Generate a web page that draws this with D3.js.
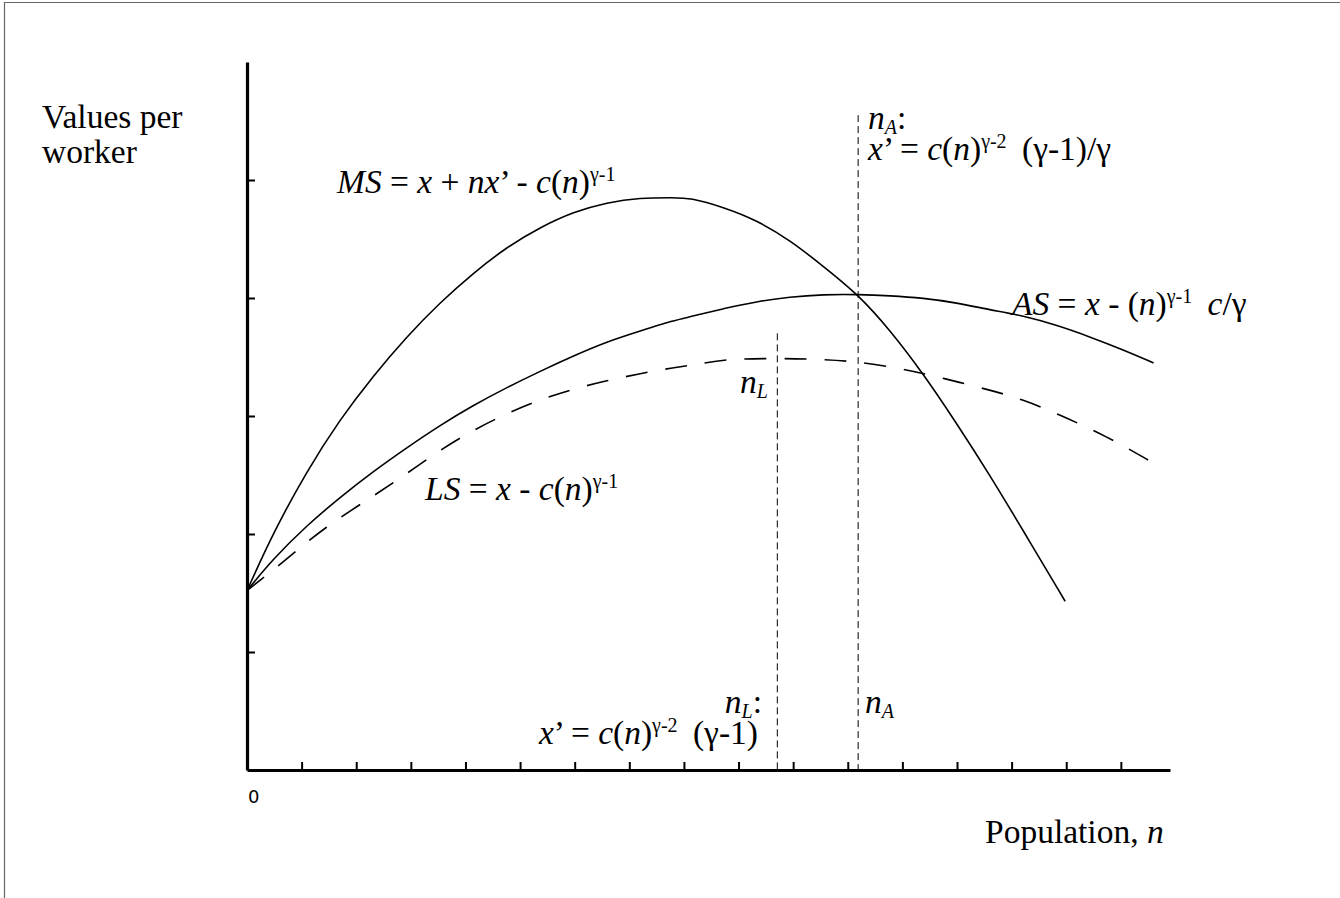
<!DOCTYPE html>
<html>
<head>
<meta charset="utf-8">
<script src="https://cdn.jsdelivr.net/npm/d3@7"></script>
<style>
	body { margin: 0; background: #fff; }
	text, tspan { font-family: 'Liberation Serif', 'Times New Roman', serif; fill: #000; white-space: pre; }
</style>
</head>
<body>
<div id="chart"></div>
<script>
// values (n in x-tick units, value in y-tick units)
var msN = [0, 0.48, 1.09, 1.7, 2.31, 2.92, 3.53, 4.14, 4.75, 5.37, 5.98, 6.59, 7.2, 7.81, 8.11, 8.72, 9.33, 9.94, 10.55, 11.19, 11.77, 12.38, 12.99, 13.6, 14.21, 14.98];
var msV = [1.52, 2.01, 2.53, 2.97, 3.34, 3.67, 3.96, 4.21, 4.43, 4.6, 4.73, 4.81, 4.85, 4.85, 4.85, 4.77, 4.66, 4.49, 4.27, 4.03, 3.73, 3.36, 2.94, 2.5, 2.03, 1.43];

var asN = [0, 0.48, 1.09, 1.7, 2.31, 2.92, 3.53, 4.14, 4.75, 5.37, 5.98, 6.59, 7.2, 7.81, 8.11, 8.72, 9.33, 9.94, 10.55, 11.19, 11.77, 12.38, 12.99, 13.6, 14.21, 14.83, 15.44, 16.05, 16.6];
var asV = [1.52, 1.79, 2.07, 2.31, 2.53, 2.73, 2.92, 3.09, 3.24, 3.38, 3.51, 3.63, 3.72, 3.81, 3.84, 3.91, 3.97, 4.01, 4.03, 4.03, 4.02, 4.0, 3.96, 3.9, 3.85, 3.77, 3.67, 3.56, 3.45];

var lsN = [0, 0.79, 1.4, 2.31, 2.92, 3.53, 4.14, 4.75, 5.37, 5.98, 6.59, 7.2, 7.81, 8.29, 8.72, 9.64, 10.55, 11.19, 12.02, 12.75, 13.6, 14.21, 14.83, 15.74, 16.6];
var lsV = [1.52, 1.81, 2.05, 2.32, 2.51, 2.71, 2.88, 3.02, 3.14, 3.23, 3.3, 3.36, 3.41, 3.44, 3.48, 3.49, 3.48, 3.46, 3.4, 3.32, 3.22, 3.14, 3.02, 2.83, 2.6];

// vertical markers n_L and n_A: position and top
var markN = [9.71, 11.19];
var markTop = [3.7, 5.55];

var xTicks = d3.range(1, 17);
var yTicks = [1, 2, 3, 4, 5];

var width = 1340, height = 898;

var svg = d3.select('#chart').append('svg')
	.attr('width', width)
	.attr('height', height);

// frame (only left and top edges show)
svg.append('path')
	.attr('d', 'M4.5,' + height + 'V2.5H' + width)
	.attr('fill', 'none')
	.attr('stroke', '#666')
	.attr('stroke-width', 1.2);

var x = d3.scaleLinear().domain([0, 16.9]).range([247, 1170]);
var y = d3.scaleLinear().domain([0, 6]).range([770, 62]);

//Axes, ticks pointing inside
var xAxis = svg.append('g')
	.attr('transform', 'translate(0,' + y(0) + ')')
	.call(d3.axisBottom(x).tickValues(xTicks).tickSizeInner(-8).tickSizeOuter(0).tickFormat(''));
var yAxis = svg.append('g')
	.attr('transform', 'translate(' + x(0) + ',0)')
	.call(d3.axisLeft(y).tickValues(yTicks).tickSizeInner(-8).tickSizeOuter(0).tickFormat(''));
[xAxis, yAxis].forEach(function(a) {
	a.select('.domain').attr('stroke-width', 3.2).attr('stroke', '#000');
	a.selectAll('.tick line').attr('stroke-width', 2).attr('stroke', '#000');
});

var line = d3.line()
	.x(function(d) { return x(d[0]); })
	.y(function(d) { return y(d[1]); })
	.curve(d3.curveBasis);

function zip(a, b) {
	return a.map(function(v, i) { return [v, b[i]]; });
}

svg.append('path').datum(zip(msN, msV))
	.attr('fill', 'none').attr('stroke', '#000').attr('stroke-width', 1.6).attr('d', line);
svg.append('path').datum(zip(asN, asV))
	.attr('fill', 'none').attr('stroke', '#000').attr('stroke-width', 1.6).attr('d', line);
svg.append('path').datum(zip(lsN, lsV))
	.attr('fill', 'none').attr('stroke', '#000').attr('stroke-width', 1.6)
	.attr('stroke-dasharray', '22,18').attr('d', line);

//dashed verticals
svg.selectAll('.mark').data(markN).enter().append('line')
	.attr('x1', function(d) { return x(d); })
	.attr('x2', function(d) { return x(d); })
	.attr('y1', function(d, i) { return y(markTop[i]); })
	.attr('y2', y(0))
	.attr('stroke', '#000').attr('stroke-width', 1)
	.attr('stroke-dasharray', '7,4');

// text with italics and sub/superscripts, optional extra gap as 3rd item
function rich(px, py, parts, anchor) {
	var t = svg.append('text')
		.attr('x', px).attr('y', py)
		.attr('text-anchor', anchor || 'start')
		.style('font-size', '33.5px');
	var shift = 0;
	parts.forEach(function(p) {
		var st = p[1] || '';
		var target = st.indexOf('sup') >= 0 ? -12 : (st.indexOf('sub') >= 0 ? 5 : 0);
		var ts = t.append('tspan')
			.attr('dy', target - shift)
			.style('font-style', st.charAt(0) === 'i' ? 'italic' : 'normal')
			.text(p[0]);
		if (p[2]) ts.attr('dx', p[2]);
		if (target !== 0) ts.style('font-size', '20px');
		shift = target;
	});
	return t;
}

rich(42, 128, [['Values per']]);
rich(42, 163, [['worker']]);
rich(337, 193, [['MS', 'i'], [' = '], ['x', 'i'], [' + '], ['nx', 'i'], ['’ - '], ['c', 'i'], ['('], ['n', 'i'], [')'], ['γ-1', 'sup']]);
rich(868, 129, [['n', 'i'], ['A', 'isub'], [':']]);
rich(868, 160, [['x', 'i'], ['’ = '], ['c', 'i'], ['('], ['n', 'i'], [')'], ['γ-2', 'sup'], [' (γ-1)/γ', '', 7]]);
rich(1012, 315, [['AS', 'i'], [' = '], ['x', 'i'], [' - ('], ['n', 'i'], [')'], ['γ-1', 'sup'], [' ', '', 7], ['c', 'i'], ['/γ']]);
rich(425, 500, [['LS', 'i'], [' = '], ['x', 'i'], [' - '], ['c', 'i'], ['('], ['n', 'i'], [')'], ['γ-1', 'sup']]);
rich(740, 393, [['n', 'i'], ['L', 'isub']]);
rich(762, 713, [['n', 'i'], ['L', 'isub'], [':']], 'end');
rich(758, 744, [['x', 'i'], ['’ = '], ['c', 'i'], ['('], ['n', 'i'], [')'], ['γ-2', 'sup'], [' (γ-1)', '', 7]], 'end');
rich(865, 713, [['n', 'i'], ['A', 'isub']]);
rich(985, 843, [['Population, '], ['n', 'i']]);

svg.append('text')
	.attr('x', x(0) + 1)
	.attr('y', 803)
	.style('font-family', "'DejaVu Sans', sans-serif")
	.style('font-size', '18px')
	.text('0');
</script>
</body>
</html>
